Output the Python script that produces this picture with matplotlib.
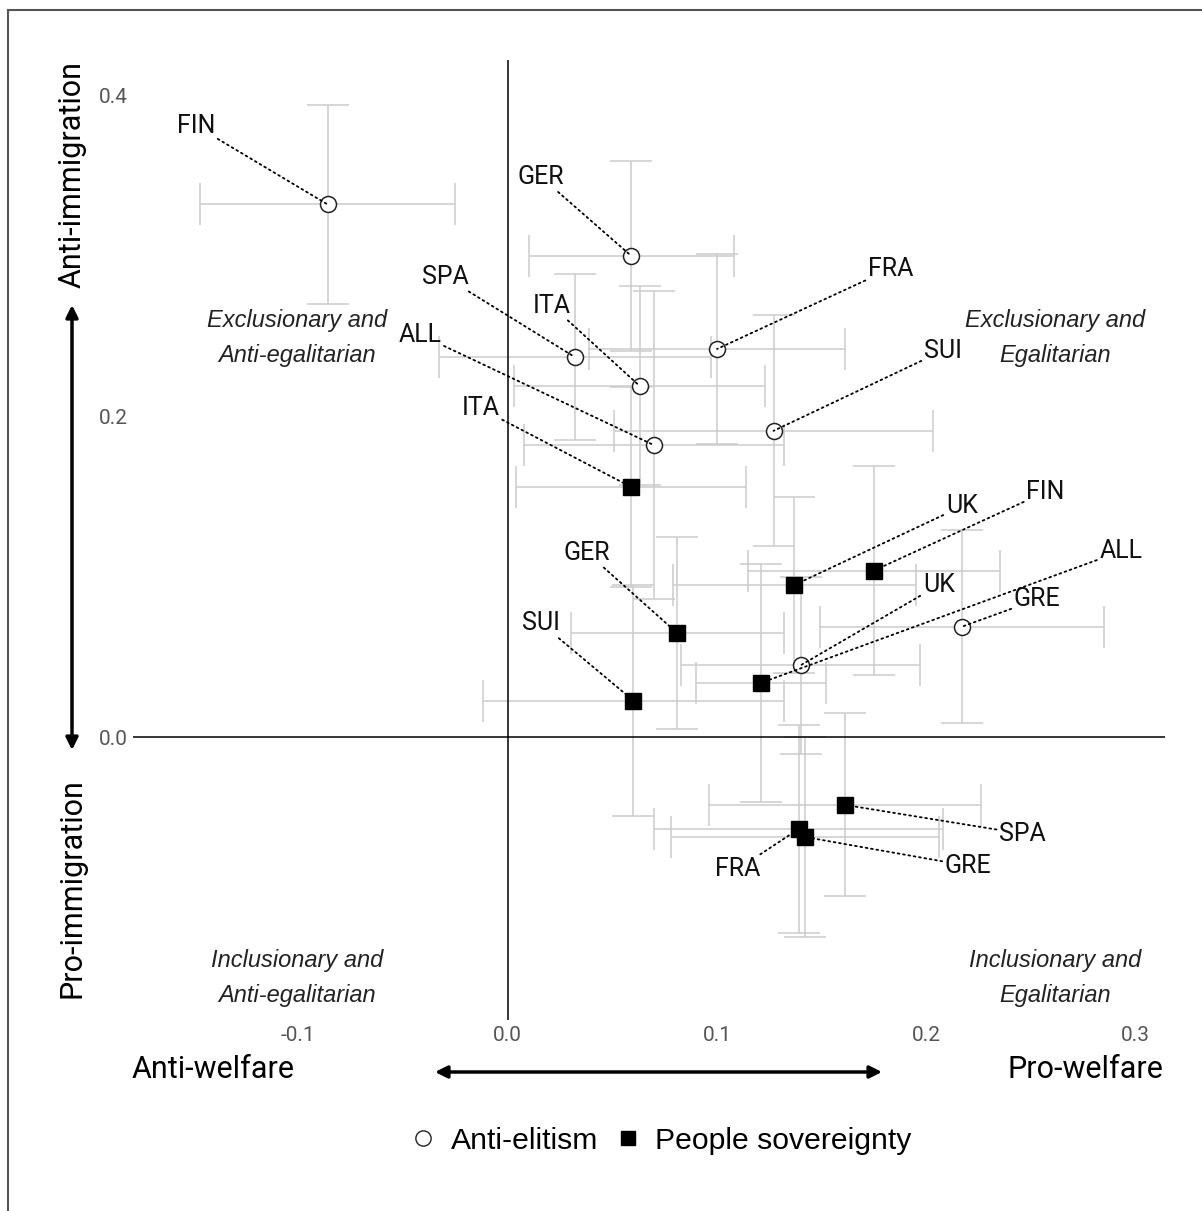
import matplotlib.pyplot as plt
from matplotlib.lines import Line2D
from matplotlib.patches import Rectangle, FancyArrowPatch

plt.rcParams['font.family'] = ['Roboto', 'DejaVu Sans']

# anti-elitism (open circles)
ae_names = ['FIN', 'GER', 'SPA', 'ITA', 'FRA', 'SUI', 'ALL', 'GRE', 'UK']
ae_x = [-0.086, 0.059, 0.032, 0.063, 0.100, 0.127, 0.070, 0.217, 0.140]
ae_y = [0.332, 0.300, 0.237, 0.219, 0.242, 0.191, 0.182, 0.069, 0.045]
ae_xerr = [0.061, 0.049, 0.065, 0.060, 0.061, 0.076, 0.062, 0.068, 0.057]
ae_yerr = [0.062, 0.059, 0.052, 0.062, 0.059, 0.072, 0.096, 0.060, 0.055]
ae_lab_x = [-0.149, 0.016, -0.030, 0.021, 0.183, 0.208, -0.042, 0.253, 0.206]
ae_lab_y = [0.381, 0.349, 0.287, 0.269, 0.292, 0.241, 0.251, 0.086, 0.095]

# people sovereignty (filled squares)
ps_names = ['ITA', 'FIN', 'UK', 'GER', 'ALL', 'SUI', 'SPA', 'FRA', 'GRE']
ps_x = [0.059, 0.175, 0.137, 0.081, 0.121, 0.060, 0.161, 0.139, 0.142]
ps_y = [0.156, 0.104, 0.095, 0.065, 0.034, 0.023, -0.042, -0.057, -0.062]
ps_xerr = [0.055, 0.060, 0.058, 0.051, 0.031, 0.072, 0.065, 0.069, 0.064]
ps_yerr = [0.062, 0.065, 0.055, 0.060, 0.074, 0.072, 0.057, 0.065, 0.062]
ps_lab_x = [-0.013, 0.257, 0.217, 0.038, 0.293, 0.016, 0.246, 0.110, 0.220]
ps_lab_y = [0.205, 0.153, 0.144, 0.115, 0.116, 0.071, -0.060, -0.082, -0.080]

xticks = [-0.1, 0.0, 0.1, 0.2, 0.3]
yticks = [0.0, 0.2, 0.4]

W, H = 1202, 1211
fig = plt.figure(figsize=(W / 100, H / 100), dpi=100)
ax = fig.add_axes([133 / W, 1 - 1020 / H, (1165 - 133) / W, (1020 - 60) / H])
ax.set_xlim(-0.179, 0.314)
ax.set_ylim(-0.176, 0.422)
for s in ax.spines.values():
    s.set_visible(False)
ax.axhline(0, color='black', lw=1.1, zorder=2)
ax.axvline(0, color='black', lw=1.1, zorder=2)
ax.set_xticks(xticks)
ax.set_xticklabels(['%.1f' % t for t in xticks])
ax.set_yticks(yticks)
ax.set_yticklabels(['%.1f' % t for t in yticks])
ax.tick_params(length=0, labelsize=15, labelcolor='#555555', pad=4)

ebar = dict(fmt='none', ecolor='#cccccc', elinewidth=1.1, capsize=15, capthick=1.1, zorder=1)
ax.errorbar(ae_x, ae_y, xerr=ae_xerr, yerr=ae_yerr, **ebar)
ax.errorbar(ps_x, ps_y, xerr=ps_xerr, yerr=ps_yerr, **ebar)
ax.plot(ae_x, ae_y, 'o', ls='none', ms=11.5, mfc='white', mec='#222222', mew=1.1, zorder=3)
ax.plot(ps_x, ps_y, 's', ls='none', ms=11, mfc='black', mec='black', zorder=3)

seg = dict(arrowstyle='-', linestyle=(0, (1, 2)), lw=1.3, color='black', shrinkA=0, shrinkB=0)
for n, x, y, lx, ly in zip(ae_names, ae_x, ae_y, ae_lab_x, ae_lab_y):
    ax.annotate(n, xy=(x, y), xytext=(lx, ly), ha='center', va='center', fontsize=18,
                color='#111111', arrowprops=seg, zorder=4)
for n, x, y, lx, ly in zip(ps_names, ps_x, ps_y, ps_lab_x, ps_lab_y):
    ax.annotate(n, xy=(x, y), xytext=(lx, ly), ha='center', va='center', fontsize=18,
                color='#111111', arrowprops=seg, zorder=4)

quad = dict(ha='center', va='center', fontsize=17, style='italic', family='Liberation Sans',
            linespacing=1.65, color='#222222')
ax.text(-0.1005, 0.249, 'Exclusionary and\nAnti-egalitarian', **quad)
ax.text(0.2617, 0.249, 'Exclusionary and\nEgalitarian', **quad)
ax.text(-0.1005, -0.150, 'Inclusionary and\nAnti-egalitarian', **quad)
ax.text(0.2617, -0.150, 'Inclusionary and\nEgalitarian', **quad)

# axis titles and arrows in figure space
fig.text(72 / W, 1 - 175 / H, 'Anti-immigration', rotation=90, ha='center', va='center', fontsize=22)
fig.text(72 / W, 1 - 888 / H, 'Pro-immigration', rotation=90, ha='center', va='center', fontsize=22)
fig.text(213 / W, 1 - 1070 / H, 'Anti-welfare', ha='center', va='center', fontsize=22)
fig.text(1085 / W, 1 - 1070 / H, 'Pro-welfare', ha='center', va='center', fontsize=22)
fig.add_artist(FancyArrowPatch((72 / W, 1 - 305 / H), (72 / W, 1 - 750 / H), transform=fig.transFigure,
                               arrowstyle='<|-|>', mutation_scale=18, lw=2.5, color='black',
                               shrinkA=0, shrinkB=0))
fig.add_artist(FancyArrowPatch((435 / W, 1 - 1072 / H), (882 / W, 1 - 1072 / H), transform=fig.transFigure,
                               arrowstyle='<|-|>', mutation_scale=18, lw=2.5, color='black',
                               shrinkA=0, shrinkB=0))

handles = [Line2D([], [], marker='o', ls='none', ms=11, mfc='white', mec='#222222'),
           Line2D([], [], marker='s', ls='none', ms=10, mfc='black', mec='black')]
fig.legend(handles, ['Anti-elitism', 'People sovereignty'], loc='center', ncol=2,
           bbox_to_anchor=(660 / W, 1 - 1141 / H), frameon=False,
           prop={'family': 'Liberation Sans', 'size': 21.7},
           handlelength=1.0, handletextpad=0.4, columnspacing=0.5)

fig.add_artist(Rectangle((8 / W, -0.05), 1.2, 1.05 - 10 / H, transform=fig.transFigure,
                         fill=False, edgecolor='#555555', lw=1.5, clip_on=False))

fig.savefig('out.png', dpi=100)
